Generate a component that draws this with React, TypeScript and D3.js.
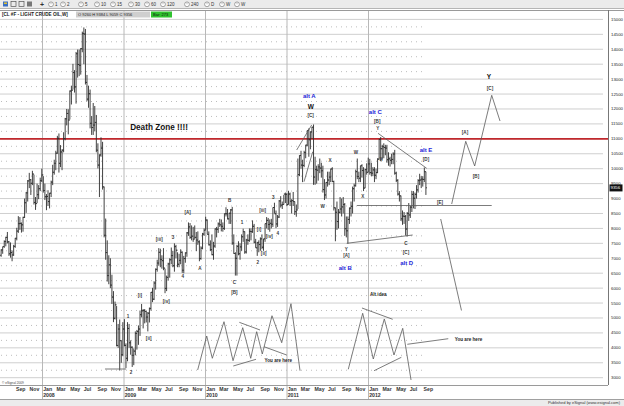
import React from "react";
import * as d3 from "d3";

type HLC = [number, number, number];
type Note = { t: string; yr: number; p: number };

// weekly bars [high, low, close] in dollars, weeks starting 2007-07-02
const firstWeek = new Date(2007, 6, 2);
const firstOpen = 71.0;
const bars2007: HLC[] = [
  [73.0, 70.5, 72.8], [73.9, 71.5, 73.9], [76.0, 73.5, 75.6], [77.2, 74.0, 77.0], [78.8, 75.0, 75.5],
  [75.8, 70.8, 71.5], [75.3, 70.2, 71.9], [72.6, 69.0, 71.1], [74.5, 70.8, 74.0],
  [76.8, 73.5, 76.7], [80.2, 76.0, 79.1], [84.1, 78.5, 81.6], [83.8, 79.5, 81.7],
  [82.0, 78.6, 81.2], [83.9, 78.9, 83.7], [90.0, 83.5, 88.6], [92.2, 85.2, 91.9], [96.2, 89.0, 95.9],
  [98.6, 93.5, 96.3], [96.5, 91.2, 95.1], [99.3, 94.5, 98.2], [98.0, 88.0, 88.7],
  [90.5, 86.2, 88.3], [95.0, 88.5, 91.3], [94.5, 89.8, 93.3], [97.0, 92.5, 96.0], [100.0, 95.5, 97.9],
];
const bars2008: HLC[] = [
  [97.5, 92.0, 92.7], [95.0, 89.5, 90.6], [91.5, 86.1, 90.7], [92.8, 87.5, 89.0],
  [91.9, 86.7, 91.8], [96.0, 90.5, 95.5], [101.3, 94.5, 98.8], [103.0, 98.0, 101.8],
  [106.0, 99.5, 105.2], [111.0, 105.0, 110.2], [111.8, 98.7, 101.8], [107.9, 100.5, 105.6], [106.5, 99.5, 106.2],
  [112.2, 105.5, 110.1], [117.0, 109.5, 116.7], [120.0, 114.5, 118.5], [119.9, 111.5, 116.3],
  [126.2, 116.5, 126.0], [127.8, 121.5, 126.3], [135.1, 126.5, 132.2], [133.0, 125.5, 127.4],
  [139.1, 121.8, 138.5], [139.9, 130.5, 134.9], [139.9, 131.0, 134.6], [140.4, 131.5, 140.2], [145.9, 139.0, 145.3],
  [147.3, 135.0, 145.1], [146.8, 128.2, 128.9], [131.4, 122.6, 123.3], [127.8, 120.4, 125.1],
  [126.5, 113.5, 115.2], [117.6, 111.3, 113.8], [122.0, 111.3, 114.6], [121.0, 112.5, 115.5],
  [118.0, 105.5, 106.2], [108.5, 100.1, 101.2], [104.8, 90.5, 104.6], [110.5, 104.0, 106.9], [109.0, 93.0, 93.9],
  [94.0, 77.0, 77.7], [83.3, 69.5, 71.9], [76.0, 62.2, 64.2], [71.0, 61.3, 67.8],
  [70.0, 60.0, 61.0], [64.5, 54.7, 57.0], [59.0, 48.6, 49.9], [55.5, 49.5, 54.4],
  [54.0, 40.5, 40.8], [48.0, 40.0, 46.3], [49.5, 32.4, 42.4], [42.5, 35.0, 37.7], [48.6, 37.2, 46.3],
];
const bars2009: HLC[] = [
  [49.6, 40.5, 40.8], [41.5, 33.2, 36.5], [48.6, 35.5, 46.5], [48.0, 40.0, 41.7],
  [42.5, 37.7, 40.2], [40.5, 33.6, 37.5], [39.8, 34.2, 38.9], [45.5, 37.5, 44.8],
  [46.0, 39.4, 45.5], [47.5, 41.0, 46.3], [52.5, 44.0, 51.1], [54.7, 50.2, 52.4], [53.0, 46.5, 52.5],
  [53.0, 48.2, 52.2], [52.3, 48.5, 50.3], [52.0, 45.5, 51.6], [53.5, 48.5, 53.2],
  [58.7, 52.5, 58.6], [60.1, 55.3, 56.3], [62.3, 56.0, 61.7], [66.6, 59.5, 66.3],
  [69.5, 65.5, 68.4], [73.4, 67.5, 72.0], [73.2, 67.0, 69.6], [71.0, 66.5, 69.2], [73.4, 66.0, 66.7],
  [66.5, 58.3, 59.9], [64.2, 59.0, 63.6], [68.5, 62.5, 68.1], [70.0, 63.5, 69.5],
  [73.6, 68.0, 70.9], [72.5, 67.0, 67.5], [75.0, 65.5, 73.9], [74.5, 70.0, 72.7], [72.0, 67.0, 68.0],
  [71.5, 67.0, 69.3], [73.0, 68.0, 72.0], [72.3, 65.1, 66.0], [70.8, 65.0, 69.9],
  [72.0, 68.5, 71.8], [78.8, 70.5, 78.5], [82.0, 77.5, 80.5], [81.8, 76.5, 77.0],
  [81.0, 76.0, 77.4], [80.5, 75.5, 76.4], [81.0, 76.5, 77.0], [78.8, 72.4, 76.1], [79.0, 74.5, 75.5],
  [76.0, 69.0, 69.9], [74.0, 69.5, 73.4], [78.5, 73.0, 78.1], [80.0, 77.5, 79.4],
];
const bars2010: HLC[] = [
  [83.9, 79.5, 82.8], [83.0, 78.0, 78.0], [79.0, 74.3, 74.5], [76.0, 72.4, 72.9],
  [78.0, 71.0, 71.2], [75.5, 69.5, 74.1], [80.0, 73.5, 79.8], [80.5, 77.0, 79.7],
  [82.0, 78.5, 81.5], [83.2, 80.5, 81.2], [83.0, 79.0, 80.7], [82.0, 78.9, 80.0], [85.0, 79.5, 84.9],
  [87.1, 84.0, 84.9], [86.5, 83.0, 83.2], [85.2, 81.5, 85.1], [86.5, 81.5, 86.2],
  [87.2, 74.5, 75.1], [78.0, 71.5, 71.6], [72.0, 64.2, 70.0], [74.5, 64.2, 74.0],
  [75.7, 71.0, 71.5], [75.0, 69.5, 73.8], [78.0, 72.5, 77.2], [79.9, 75.5, 78.9], [79.0, 71.5, 72.1],
  [76.5, 71.6, 76.1], [78.0, 74.5, 76.0], [80.0, 75.5, 79.0], [80.0, 76.0, 78.9],
  [82.7, 78.5, 80.7], [81.5, 75.0, 75.4], [76.5, 73.5, 73.5], [75.5, 70.8, 75.2], [76.0, 72.0, 74.6],
  [77.0, 72.5, 76.5], [78.0, 73.0, 73.7], [76.5, 72.5, 76.5], [81.6, 75.5, 81.6],
  [83.8, 80.0, 82.7], [83.5, 79.5, 81.3], [83.0, 78.9, 81.7], [83.2, 80.0, 81.4],
  [87.0, 80.5, 87.0], [88.6, 85.0, 84.9], [86.0, 80.1, 81.5], [84.5, 80.5, 83.8], [89.5, 83.5, 89.2],
  [90.8, 87.0, 87.8], [89.0, 86.5, 88.0], [91.2, 88.0, 91.5], [92.0, 88.5, 91.4],
];
const bars2011: HLC[] = [
  [91.8, 87.5, 88.0], [92.6, 88.0, 91.5], [92.0, 87.5, 89.1], [89.8, 85.0, 89.3], [92.2, 87.5, 89.0],
  [89.0, 84.5, 85.6], [88.0, 83.9, 86.2], [103.4, 86.5, 98.0], [104.5, 97.5, 104.4],
  [106.0, 100.0, 101.2], [103.0, 95.5, 101.1], [106.0, 100.5, 105.4], [108.0, 103.5, 107.9],
  [112.8, 107.5, 112.8], [113.5, 104.0, 109.7], [112.5, 106.5, 112.3], [114.0, 110.0, 113.9],
  [114.8, 94.6, 97.2], [104.0, 94.6, 99.7], [101.0, 95.0, 99.5], [101.5, 96.0, 100.6], [103.4, 98.5, 100.2],
  [102.0, 97.0, 99.3], [101.0, 92.0, 93.0], [96.5, 89.5, 91.2], [95.5, 90.0, 95.4],
  [99.0, 94.0, 96.2], [99.0, 94.5, 97.2], [100.0, 95.5, 99.9], [100.5, 95.5, 95.7],
  [96.0, 86.0, 86.9], [87.0, 75.7, 85.4], [89.0, 79.5, 82.3], [86.5, 80.0, 85.4], [90.5, 85.0, 86.5],
  [90.0, 84.0, 87.2], [90.5, 85.0, 88.0], [88.5, 77.5, 79.9], [84.0, 77.0, 79.2],
  [84.0, 74.9, 83.0], [87.0, 81.5, 86.8], [89.0, 84.0, 87.4], [94.0, 85.0, 93.3], [95.0, 89.0, 94.3],
  [99.7, 94.0, 99.0], [103.4, 96.5, 97.4], [99.0, 95.5, 96.8], [101.0, 95.5, 101.0],
  [101.5, 97.0, 99.4], [100.5, 92.5, 93.5], [100.0, 93.5, 99.7], [101.8, 98.0, 98.8],
];
const bars2012: HLC[] = [
  [103.7, 98.8, 101.6], [103.3, 98.0, 98.7], [102.0, 97.5, 98.5], [100.5, 97.5, 99.6], [100.5, 95.5, 97.8],
  [100.0, 96.5, 98.7], [103.5, 98.5, 103.2], [110.0, 103.0, 109.8], [110.6, 102.5, 106.7],
  [108.0, 103.0, 107.4], [108.5, 103.5, 107.1], [108.0, 104.5, 106.9], [108.0, 102.0, 103.0],
  [105.5, 101.0, 103.3], [104.0, 100.7, 102.8], [105.0, 101.5, 103.1], [105.5, 101.5, 104.9], [106.3, 98.0, 98.5],
  [99.0, 95.5, 96.1], [96.5, 91.0, 91.5], [92.5, 89.0, 90.9], [91.0, 82.5, 83.2],
  [86.0, 81.2, 84.1], [85.5, 81.5, 84.0], [84.5, 77.6, 79.8], [85.5, 77.3, 85.0],
  [88.5, 82.5, 84.5], [87.5, 83.5, 87.1], [92.5, 85.5, 91.4], [92.5, 86.7, 90.1], [92.0, 86.5, 91.4],
  [94.5, 90.0, 92.9], [96.5, 92.0, 96.0], [98.3, 94.5, 96.2], [97.5, 93.5, 96.5],
  [97.5, 94.0, 96.4], [100.4, 95.5, 99.0], [99.0, 91.2, 93.6],
];

const priceTicks = [3000, 3500, 4000, 4500, 5000, 5500, 6000, 6500, 7000, 7500, 8000, 8500, 9000, 9500,
  10000, 10500, 11000, 11500, 12000, 12500, 13000, 13500, 14000, 14500, 15000];
const yearLabels = ["2008", "2009", "2010", "2011", "2012"];
const monthTicks = ["2007-09", "2007-11", "2008-01", "2008-03", "2008-05", "2008-07", "2008-09", "2008-11",
  "2009-01", "2009-03", "2009-05", "2009-07", "2009-09", "2009-11", "2010-01", "2010-03", "2010-05", "2010-07",
  "2010-09", "2010-11", "2011-01", "2011-03", "2011-05", "2011-07", "2011-09", "2011-11", "2012-01", "2012-03",
  "2012-05", "2012-07", "2012-09"];
const monthNames = ["Jan", "Feb", "Mar", "Apr", "May", "Jun", "Jul", "Aug", "Sep", "Oct", "Nov", "Dec"];
const deathZoneLevel = 11000;
const lastPrice = "9356";
const headerTitle = "[CL #F - LIGHT CRUDE OIL,W]";
const headerValues = "O 9260   H 9384   L 9059   C 9356";
const headerBar = "Bar: 273";
const toolbarItems = ["1", "2", "5", "10", "15", "30", "60", "120", "240", "D", "W", "W"];

const greyLabels: Note[] = [
  { t: "[A]", yr: 2009.788, p: 8549 }, { t: "[iii]", yr: 2009.439, p: 7645 }, { t: "3", yr: 2009.607, p: 7702 },
  { t: "4", yr: 2009.726, p: 6389 }, { t: "[i]", yr: 2009.202, p: 5746 }, { t: "[iv]", yr: 2009.525, p: 5545 },
  { t: "1", yr: 2009.055, p: 5043 }, { t: "[ii]", yr: 2009.309, p: 4306 }, { t: "2", yr: 2009.092, p: 3167 },
  { t: "A", yr: 2009.939, p: 6664 }, { t: "B", yr: 2010.303, p: 8951 }, { t: "C", yr: 2010.36, p: 6205 },
  { t: "[B]", yr: 2010.36, p: 5847 }, { t: "1", yr: 2010.454, p: 8191 }, { t: "[i]", yr: 2010.663, p: 7970 },
  { t: "[iii]", yr: 2010.708, p: 8616 }, { t: "[iv]", yr: 2010.789, p: 7722 }, { t: "[ii]", yr: 2010.72, p: 7176 },
  { t: "2", yr: 2010.647, p: 6851 }, { t: "3", yr: 2010.838, p: 9028 }, { t: "4", yr: 2010.892, p: 7823 },
  { t: "[C]", yr: 2011.297, p: 11774 }, { t: "X", yr: 2011.534, p: 10291 }, { t: "W", yr: 2011.444, p: 8750 },
  { t: "W", yr: 2011.853, p: 10535 }, { t: "X", yr: 2011.935, p: 9062 }, { t: "Y", yr: 2011.734, p: 7300 },
  { t: "[A]", yr: 2011.734, p: 7076 }, { t: "[B]", yr: 2012.114, p: 11573 }, { t: "Y", yr: 2012.119, p: 11339 },
  { t: "X", yr: 2012.159, p: 10314 }, { t: "C", yr: 2012.466, p: 7478 }, { t: "[C]", yr: 2012.466, p: 7200 },
  { t: "[D]", yr: 2012.712, p: 10314 }, { t: "[E]", yr: 2012.883, p: 8874 }, { t: "[A]", yr: 2013.19, p: 11205 },
  { t: "[B]", yr: 2013.325, p: 9755 }, { t: "[C]", yr: 2013.497, p: 12669 },
];
const blueLabels: Note[] = [
  { t: "alt A", yr: 2011.28, p: 12434 }, { t: "alt B", yr: 2011.721, p: 6664 },
  { t: "alt C", yr: 2012.09, p: 11908 }, { t: "alt D", yr: 2012.475, p: 6831 },
  { t: "alt E", yr: 2012.712, p: 10616 },
];
const blackLabels: Note[] = [
  { t: "W", yr: 2011.297, p: 12076 }, { t: "Y", yr: 2013.485, p: 13080 },
];
const smallTexts: Note[] = [
  { t: "Alt idea", yr: 2012.126, p: 5803 },
  { t: "You are here", yr: 2010.899, p: 3569 },
  { t: "You are here", yr: 2013.233, p: 4286 },
];
const deathZoneNote: Note = { t: "Death Zone !!!!", yr: 2009.436, p: 11386 };

// annotation polylines [decimal year, price]
const annotationLines: [number, number][][] = [
  [[2008.773, 3291], [2009.031, 3291]],
  [[2011.125, 10626], [2011.309, 11463]],
  [[2011.215, 9564], [2011.322, 10569]],
  [[2011.739, 7501], [2012.548, 7779]],
  [[2012.123, 11185], [2012.72, 10013]],
  [[2011.865, 8767], [2013.518, 8767]],
  [[2013.027, 8817], [2013.199, 10917], [2013.309, 10090], [2013.518, 12458], [2013.62, 11597]],
  [[2012.892, 8315], [2013.147, 5251]],
  [[2009.91, 3258], [2010.021, 4397], [2010.09, 3650], [2010.233, 4875], [2010.344, 3569], [2010.463, 4675],
    [2010.561, 3650], [2010.634, 4541], [2010.703, 3794], [2010.822, 5076], [2010.941, 4172], [2011.055, 5478],
    [2011.166, 3234]],
  [[2010.421, 4855], [2010.675, 4598]],
  [[2010.347, 3392], [2010.626, 3616]],
  [[2010.724, 4038], [2011.002, 3760]],
  [[2011.758, 3281], [2011.935, 5157], [2012.065, 3626], [2012.2, 4966], [2012.319, 3760], [2012.426, 4654],
    [2012.528, 2923]],
  [[2011.926, 5334], [2012.303, 4956]],
  [[2012.074, 3234], [2012.409, 3683]],
  [[2012.482, 4119], [2012.985, 4306]],
];

const W = 624;
const H = 406;
const PLOT_TOP = 10;
const PLOT_BOTTOM = 385;
const PLOT_RIGHT = 608;
const FONT = "'Liberation Sans', Arial, sans-serif";

function decYear(d: Date): number {
  const y = d.getFullYear();
  const s = new Date(y, 0, 1).getTime();
  const e = new Date(y + 1, 0, 1).getTime();
  return y + (d.getTime() - s) / (e - s);
}

export default function App() {
  const x = d3.scaleLinear().domain([2008, 2012]).range([42, 368]);
  const y = d3.scaleLinear().domain([3000, 15000]).range([377.7, 19.4]);

  const all = [...bars2007, ...bars2008, ...bars2009, ...bars2010, ...bars2011, ...bars2012];
  const bars = all.map((b, i) => {
    const date = d3.timeDay.offset(firstWeek, 7 * i);
    const open = i === 0 ? firstOpen : all[i - 1][2];
    return { date, o: open * 100, h: b[0] * 100, l: b[1] * 100, c: b[2] * 100 };
  });
  const lastX = x(decYear(bars[bars.length - 1].date));

  const line = d3.line<[number, number]>().x((d) => x(d[0])).y((d) => y(d[1]));

  const halfTicks = priceTicks.slice(0, -1).map((p) => p + 250);

  return (
    <svg width={W} height={H} style={{ position: "fixed", left: 0, top: 0, background: "#fff" }} fontFamily={FONT}>
      <rect x={0} y={0} width={W} height={H} fill="#fff" />
      {/* horizontal grid */}
      {priceTicks.map((p) => (
        <line key={"g" + p} x1={0} x2={603} y1={y(p)} y2={y(p)} stroke="#cfcfcf" strokeWidth={1} />
      ))}
      {halfTicks.map((p) => (
        <line key={"d" + p} x1={1} x2={lastX} y1={y(p)} y2={y(p)} stroke="#bdbdbd" strokeWidth={1} strokeDasharray="1,4" />
      ))}
      {/* year lines */}
      {yearLabels.map((yl) => (
        <line key={"yl" + yl} x1={x(+yl) + 0.5} x2={x(+yl) + 0.5} y1={PLOT_TOP} y2={399} stroke="#b8b8b8" strokeWidth={1} />
      ))}
      {/* death zone */}
      <line x1={0} x2={PLOT_RIGHT} y1={y(deathZoneLevel)} y2={y(deathZoneLevel)} stroke="#c0282d" strokeWidth={1.6} />
      {/* bars */}
      <g stroke="#2c2c2c" strokeWidth={0.9}>
        {bars.map((b, i) => {
          const bx = x(decYear(b.date));
          return (
            <g key={"b" + i}>
              <line x1={bx} x2={bx} y1={y(b.h)} y2={y(b.l)} />
              <line x1={bx - 1.1} x2={bx} y1={y(b.o)} y2={y(b.o)} />
              <line x1={bx} x2={bx + 1.1} y1={y(b.c)} y2={y(b.c)} />
            </g>
          );
        })}
      </g>
      {/* annotation lines */}
      <g fill="none" stroke="#5a5a5a" strokeWidth={0.8}>
        {annotationLines.map((pts, i) => (
          <path key={"al" + i} d={line(pts) || ""} />
        ))}
      </g>
      {/* labels */}
      <g fontSize={4.6} fill="#3a3a3a" fontWeight="bold" textAnchor="middle" dominantBaseline="central">
        {greyLabels.map((n, i) => (
          <text key={"gl" + i} x={x(n.yr)} y={y(n.p)}>{n.t}</text>
        ))}
      </g>
      <g fontSize={6} fill="#2424d8" fontWeight="bold" textAnchor="middle" dominantBaseline="central">
        {blueLabels.map((n, i) => (
          <text key={"bl" + i} x={x(n.yr)} y={y(n.p)}>{n.t}</text>
        ))}
      </g>
      <g fontSize={6.5} fill="#111" fontWeight="bold" textAnchor="middle" dominantBaseline="central">
        {blackLabels.map((n, i) => (
          <text key={"kl" + i} x={x(n.yr)} y={y(n.p)}>{n.t}</text>
        ))}
      </g>
      <g fontSize={4.6} fill="#222" fontWeight="bold" textAnchor="middle" dominantBaseline="central">
        {smallTexts.map((n, i) => (
          <text key={"st" + i} x={x(n.yr)} y={y(n.p)}>{n.t}</text>
        ))}
      </g>
      <text x={x(deathZoneNote.yr)} y={y(deathZoneNote.p)} fontSize={8.2} fontWeight="bold" fill="#111"
        textAnchor="middle" dominantBaseline="central">{deathZoneNote.t}</text>

      {/* plot frame */}
      <line x1={0} x2={W} y1={PLOT_TOP + 0.5} y2={PLOT_TOP + 0.5} stroke="#9a9a9a" />
      <line x1={PLOT_RIGHT + 0.5} x2={PLOT_RIGHT + 0.5} y1={PLOT_TOP} y2={PLOT_BOTTOM} stroke="#777" />
      <line x1={0} x2={PLOT_RIGHT} y1={PLOT_BOTTOM + 0.5} y2={PLOT_BOTTOM + 0.5} stroke="#9a9a9a" />
      <text x={2} y={383.5} fontSize={3.2} fill="#444">© eSignal 2009</text>

      {/* right axis labels */}
      <g fontSize={4.3} fill="#222">
        {priceTicks.map((p) => (
          <text key={"pt" + p} x={611} y={y(p)} dominantBaseline="central">{p}</text>
        ))}
      </g>
      <rect x={609.5} y={y(9356) - 3.5} width={13} height={7} fill="#111" />
      <text x={610.5} y={y(9356)} fontSize={4.3} fill="#fff" dominantBaseline="central">{lastPrice}</text>

      {/* x axis labels */}
      <g fontSize={5.2} fill="#333" fontWeight="bold">
        {monthTicks.map((m) => {
          const [yy, mm] = m.split("-").map(Number);
          const mx = x(decYear(new Date(yy, mm - 1, 1))) + 1.2;
          return (
            <g key={"m" + m}>
              <text x={mx} y={391}>{monthNames[mm - 1]}</text>
              {mm === 1 ? <text x={mx} y={397}>{String(yy)}</text> : null}
            </g>
          );
        })}
      </g>

      {/* bottom status bar */}
      <rect x={0} y={399} width={W} height={7} fill="#ececec" />
      <line x1={0} x2={W} y1={399.5} y2={399.5} stroke="#a0a0a0" />
      <text x={620} y={404.3} fontSize={4} fill="#333" textAnchor="end">Published by eSignal (www.esignal.com)</text>

      {/* toolbar */}
      <rect x={0} y={0} width={W} height={9} fill="#ebebeb" />
      <line x1={0} x2={W} y1={8.5} y2={8.5} stroke="#b5b5b5" />
      <rect x={3} y={1.5} width={5} height={5} fill="#3a6fc4" />
      <rect x={4} y={2.5} width={3} height={1.5} fill="#e0c030" />
      <rect x={11} y={1.5} width={5} height={5} fill="none" stroke="#555" strokeWidth={0.7} />
      <rect x={19} y={1.5} width={5} height={5} fill="none" stroke="#555" strokeWidth={0.7} />
      <rect x={27} y={1.5} width={5} height={5} fill="#777" />
      <text x={42} y={6.6} fontSize={7} fontWeight="bold" fill="#333" textAnchor="middle">+</text>
      {toolbarItems.map((t, i) => {
        const cx = [51, 63, 81, 97, 113, 131, 147, 163, 187, 207, 222, 237][i];
        return (
          <g key={"tb" + i}>
            <circle cx={cx} cy={4.3} r={2.4} fill="#fff" stroke="#555" strokeWidth={0.5} />
            <line x1={cx} x2={cx} y1={4.3} y2={2.6} stroke="#555" strokeWidth={0.4} />
            <text x={cx + 4} y={6} fontSize={4.5} fill="#333">{t}</text>
          </g>
        );
      })}

      {/* header */}
      <text x={2} y={16.3} fontSize={4.6} fontWeight="bold" fill="#222">{headerTitle}</text>
      <rect x={76} y={11.5} width={74} height={6} fill="#cfcfcf" />
      <text x={78} y={16} fontSize={4} fill="#222">{headerValues}</text>
      <rect x={151} y={11.5} width={21} height={6} fill="#2ec22e" />
      <text x={153} y={16} fontSize={4} fill="#111">{headerBar}</text>
    </svg>
  );
}
